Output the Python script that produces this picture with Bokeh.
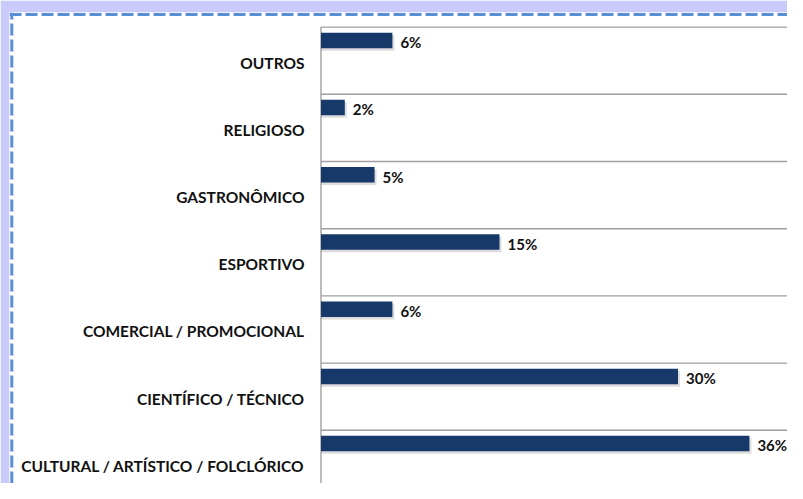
from bokeh.plotting import figure
from bokeh.models import Range1d, ColumnDataSource
from bokeh.core.properties import value
from bokeh.embed import file_html
from bokeh.resources import INLINE

# ---- data (bottom to top) ----
categories = [
    "CULTURAL / ARTÍSTICO / FOLCLÓRICO",
    "CIENTÍFICO / TÉCNICO",
    "COMERCIAL / PROMOCIONAL",
    "ESPORTIVO",
    "GASTRONÔMICO",
    "RELIGIOSO",
    "OUTROS",
]
values = [36, 30, 6, 15, 4.5, 2, 6]
value_labels = ["36%", "30%", "6%", "15%", "5%", "2%", "6%"]

# ---- layout ----
W, H = 787, 483
ML, MT = 9, 12
FRAME_W, FRAME_H = W - ML, H - MT
PX_X = 11.9          # pixels per percent
AXIS_PX = 311.5      # axis position from frame left
PX_Y = 67.2          # pixels per category band
BOTTOM_GAP = 14      # px the lowest gridline lies below the frame

x0 = -AXIS_PX / PX_X
x1 = x0 + FRAME_W / PX_X
y0 = BOTTOM_GAP / PX_Y
y1 = y0 + FRAME_H / PX_Y

idx = list(range(len(categories)))
bar_y = [i + 1 - 13.3 / PX_Y for i in idx]
lab_y = [i + 1 - 15.0 / PX_Y for i in idx]
cat_y = [i + 1 - 35.5 / PX_Y for i in idx]

src = ColumnDataSource(dict(cat=categories, v=values, vl=value_labels,
                            by=bar_y, ly=lab_y, cy=cat_y))

p = figure(width=W, height=H, output_backend="svg", toolbar_location=None,
           x_range=Range1d(x0, x1), y_range=Range1d(y0, y1),
           x_axis_location=None, y_axis_location=None,
           min_border_left=ML, min_border_top=MT, min_border_right=0, min_border_bottom=0)
p.border_fill_color = "#CBCBFB"
p.background_fill_color = "white"
p.outline_line_color = None
p.xgrid.visible = False
p.ygrid.visible = False

# dashed frame (top + left)
top_y = y1 - 2.0 / PX_Y
left_x = x0 + 2.3 / PX_X
p.line(x=[x0, x1], y=[top_y, top_y], line_color="#5A8ED5", line_width=3, line_dash="12 4")
p.line(x=[left_x, left_x], y=[y0, y1], line_color="#5A8ED5", line_width=3, line_dash="12 4")

# gridlines at category boundaries + axis line
grid_y = list(range(0, len(categories) + 1))
p.segment(x0=[0] * len(grid_y), x1=[x1] * len(grid_y), y0=grid_y, y1=grid_y,
          line_color="#A0A0A0", line_width=1.4)
p.segment(x0=[0], x1=[0], y0=[0], y1=[len(categories)], line_color="#A0A0A0", line_width=1.4)

bar_h = 15.5 / PX_Y
# soft shadow
p.hbar(y=[b - 2.5 / PX_Y for b in bar_y], right=[v + 2.0 / PX_X for v in values],
       left=0, height=bar_h, fill_color="#8a8a8a", fill_alpha=0.3, line_color=None)
p.hbar(y="by", right="v", left=0, height=bar_h, source=src,
       fill_color="#17396A", line_color=None)

p.text(x="v", y="ly", text="vl", source=src, x_offset=8,
       text_font=value("Lato"), text_font_style="bold", text_font_size="15px",
       text_align="left", text_baseline="middle", text_color="#111111")

p.text(x=-16.5 / PX_X, y="cy", text="cat", source=src,
       text_font=value("Lato"), text_font_style="bold", text_font_size="15.5px",
       text_align="right", text_baseline="middle", text_color="#111111")

open("out.html", "w").write(file_html(p, INLINE))
